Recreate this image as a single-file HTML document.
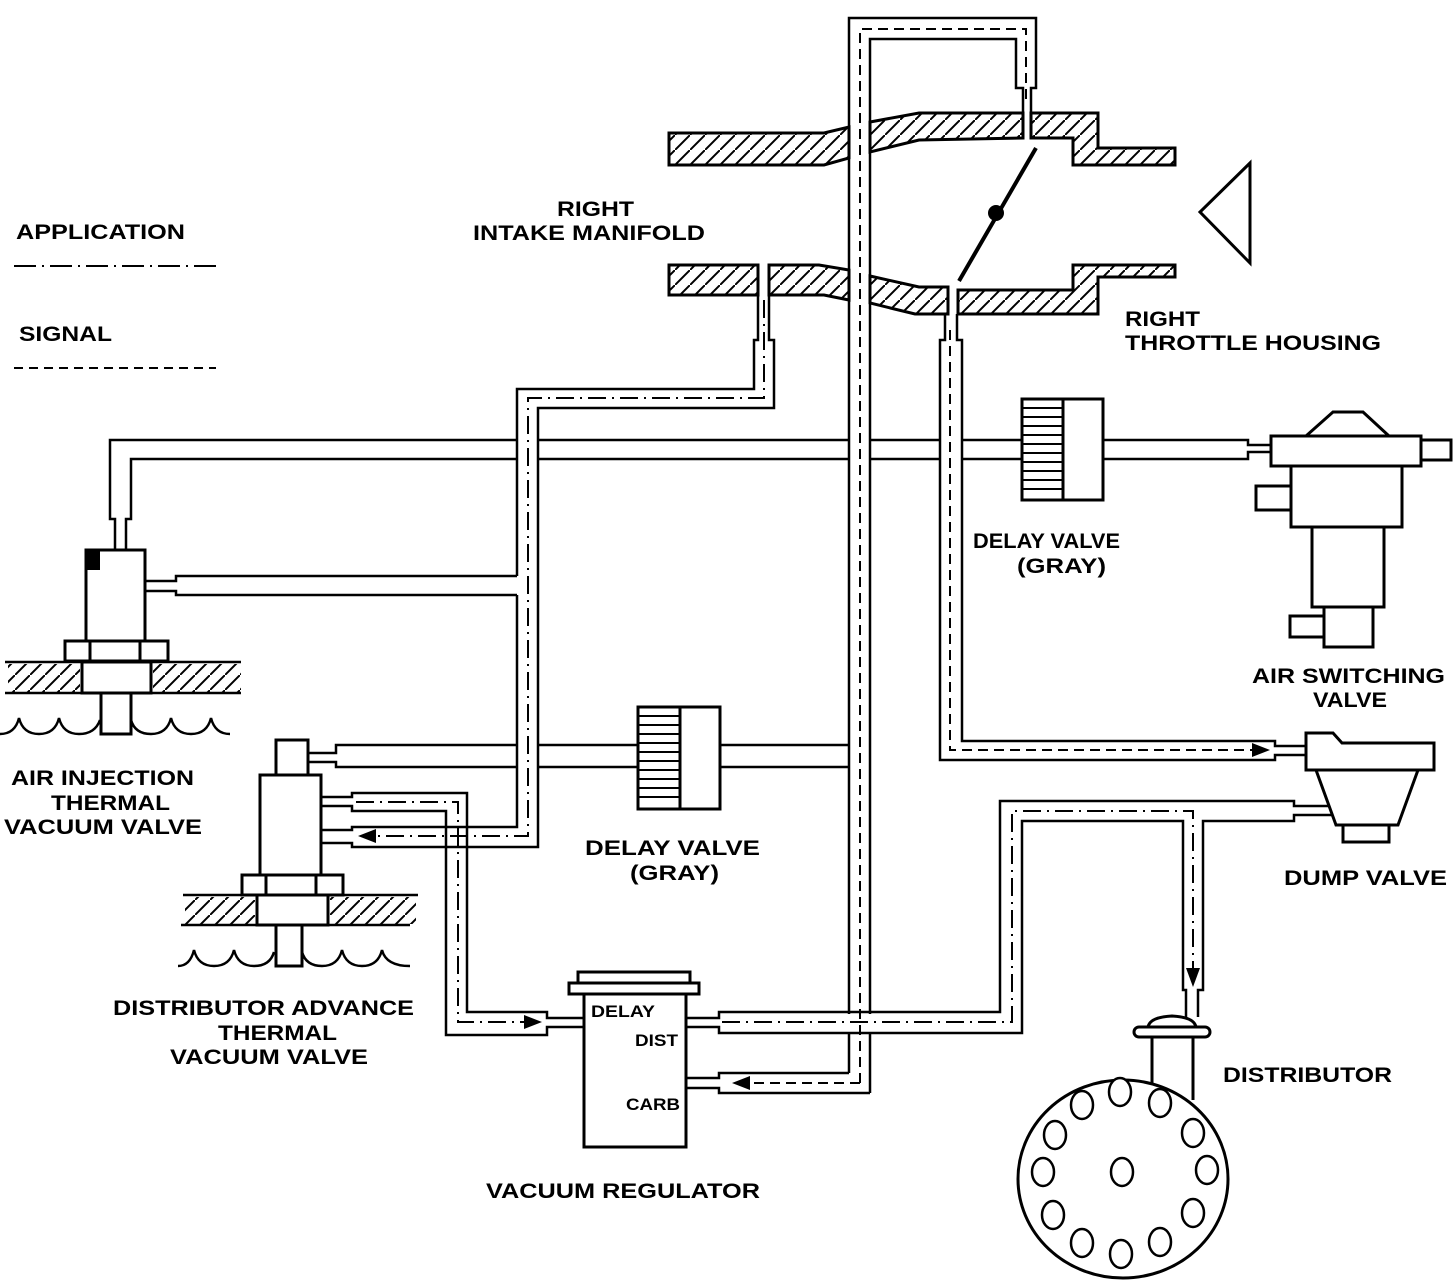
<!DOCTYPE html>
<html><head><meta charset="utf-8"><style>
html,body{margin:0;padding:0;background:#fff;}
svg{display:block;}
text{font-family:"Liberation Sans",sans-serif;font-weight:bold;fill:#000;}
</style></head><body>
<svg width="1454" height="1280" viewBox="0 0 1454 1280" xmlns="http://www.w3.org/2000/svg">
<defs>
<pattern id="h" patternUnits="userSpaceOnUse" width="15" height="15">
<line x1="-2" y1="17" x2="17" y2="-2" stroke="#000" stroke-width="2"/>
</pattern>
</defs>
<rect width="1454" height="1280" fill="#fff"/>

<!-- legend -->
<text x="16" y="239" font-size="21" textLength="169" lengthAdjust="spacingAndGlyphs">APPLICATION</text>
<line x1="14" y1="266" x2="216" y2="266" stroke="#000" stroke-width="2" stroke-dasharray="22 6 2 6"/>
<text x="19" y="341" font-size="21" textLength="93" lengthAdjust="spacingAndGlyphs">SIGNAL</text>
<line x1="14" y1="368" x2="216" y2="368" stroke="#000" stroke-width="2" stroke-dasharray="9 6"/>

<!-- manifold walls -->
<g fill="url(#h)" stroke="#000" stroke-width="3" stroke-linejoin="miter">
<polygon points="669,133 824,133 849,127 849,158 824,165 669,165"/>
<polygon points="870,122 919,113 1023,113 1023,138 919,140 870,152"/>
<polygon points="1031,113 1098,113 1098,148 1175,148 1175,165 1073,165 1073,138 1031,138"/>
<polygon points="669,265 758,265 758,295 669,295"/>
<polygon points="769,265 819,265 849,270 849,300 824,295 769,295"/>
<polygon points="870,276 919,287 948,287 948,314 915,314 870,303"/>
<polygon points="958,290 1073,290 1073,265 1175,265 1175,277 1098,277 1098,314 958,314"/>
</g>
<!-- throttle plate -->
<line x1="1036" y1="148" x2="959" y2="281" stroke="#000" stroke-width="4"/>
<circle cx="996" cy="213" r="8" fill="#000"/>
<polygon points="1250,163 1200,212 1250,263" fill="none" stroke="#000" stroke-width="3"/>

<text x="557" y="216" font-size="21" textLength="77" lengthAdjust="spacingAndGlyphs">RIGHT</text>
<text x="473" y="240" font-size="21" textLength="232" lengthAdjust="spacingAndGlyphs">INTAKE MANIFOLD</text>
<text x="1125" y="326" font-size="21" textLength="75" lengthAdjust="spacingAndGlyphs">RIGHT</text>
<text x="1125" y="350" font-size="21" textLength="256" lengthAdjust="spacingAndGlyphs">THROTTLE HOUSING</text>

<g fill="none" stroke="#000" stroke-width="2.5">
<path d="M849 1073 L849 18 L1036 18 L1036 88 L1031 88 L1031 113"/>
<path d="M870 1093 L870 39 L1016 39 L1016 88 L1023 88 L1023 113"/>
<path d="M849 1073 L719 1073 L719 1078 L686 1078"/>
<path d="M870 1093 L719 1093 L719 1088 L686 1088"/>
<path d="M945 314 L945 340 L940 340 L940 760 L1275 760 L1275 755 L1306 755"/>
<path d="M957 314 L957 340 L962 340 L962 741 L1275 741 L1275 746 L1306 746"/>
<path d="M758 295 L758 340 L754 340 L754 389 L517 389 L517 576"/>
<path d="M517 595 L517 827 L352 827 L352 830 L321 830"/>
<path d="M769 295 L769 340 L774 340 L774 408 L538 408 L538 847 L352 847 L352 843 L321 843"/>
<path d="M321 797 L352 797 L352 793 L467 793 L467 1012 L547 1012 L547 1018 L584 1018"/>
<path d="M321 806 L352 806 L352 811 L446 811 L446 1035 L547 1035 L547 1027 L584 1027"/>
<path d="M145 581 L176 581 L176 576 L517 576"/>
<path d="M145 591 L176 591 L176 595 L517 595"/>
<path d="M115 550 L115 519 L110 519 L110 440 L517 440"/>
<path d="M126 550 L126 519 L131 519 L131 459 L517 459"/>
<path d="M538 440 L849 440 M870 440 L940 440 M962 440 L1022 440"/>
<path d="M538 459 L849 459 M870 459 L940 459 M962 459 L1022 459"/>
<path d="M1103 440 L1248 440 L1248 445 L1271 445"/>
<path d="M1103 459 L1248 459 L1248 452 L1271 452"/>
<path d="M308 753 L336 753 L336 745 L517 745 M538 745 L638 745 M720 745 L849 745"/>
<path d="M308 762 L336 762 L336 767 L517 767 M538 767 L638 767 M720 767 L849 767"/>
</g>

<rect x="847" y="1014" width="25" height="18" fill="#fff"/>
<g fill="none" stroke="#000" stroke-width="2.5">
<path d="M686 1018 L719 1018 L719 1012 L1000 1012 L1000 801 L1294 801 L1294 806 L1329 806"/>
<path d="M686 1027 L719 1027 L719 1033 L1022 1033 L1022 821 L1183 821 L1183 990 L1186 990 L1186 1017"/>
<path d="M1198 1017 L1198 990 L1203 990 L1203 821 L1294 821 L1294 815 L1333 815"/>
</g>

<g fill="none" stroke="#000" stroke-width="2" stroke-dasharray="10 6">
<path d="M860 1083 L860 29 L1026 29 L1026 100"/>
<path d="M860 1083 L748 1083"/>
<path d="M950 330 L950 750 L1252 750"/>
</g>
<g fill="none" stroke="#000" stroke-width="2" stroke-dasharray="18 6 2 6">
<path d="M764 300 L764 398 L528 398 L528 836 L375 836"/>
<path d="M356 802 L458 802 L458 1022 L524 1022"/>
<path d="M722 1022 L1012 1022 L1012 811 L1193 811 L1193 968"/>
</g>
<g fill="#000">
<polygon points="732,1083 750,1076 750,1090"/>
<polygon points="1270,750 1252,743 1252,757"/>
<polygon points="358,836 376,829 376,843"/>
<polygon points="542,1022 524,1015 524,1029"/>
<polygon points="1193,987 1186,968 1200,968"/>
</g>

<g stroke="#000" fill="#fff" stroke-width="3">
<rect x="1022" y="399" width="81" height="101"/>
<line x1="1063" y1="399" x2="1063" y2="500"/>
<rect x="638" y="707" width="82" height="102"/>
<line x1="680" y1="707" x2="680" y2="809"/>
</g>
<g stroke="#000" stroke-width="2">
<path d="M1022 408H1063M1022 417H1063M1022 426H1063M1022 435H1063M1022 444H1063M1022 453H1063M1022 462H1063M1022 471H1063M1022 480H1063M1022 489H1063"/>
<path d="M638 716H680M638 725H680M638 734H680M638 743H680M638 752H680M638 761H680M638 770H680M638 779H680M638 788H680M638 797H680"/>
</g>
<text x="973" y="548" font-size="21" textLength="147" lengthAdjust="spacingAndGlyphs">DELAY VALVE</text>
<text x="1017" y="573" font-size="21" textLength="89" lengthAdjust="spacingAndGlyphs">(GRAY)</text>
<text x="585" y="855" font-size="21" textLength="175" lengthAdjust="spacingAndGlyphs">DELAY VALVE</text>
<text x="630" y="880" font-size="21" textLength="89" lengthAdjust="spacingAndGlyphs">(GRAY)</text>

<g stroke="#000" fill="#fff" stroke-width="3">
<polygon points="1306,436 1333,412 1363,412 1389,436"/>
<rect x="1271" y="436" width="150" height="30"/>
<rect x="1421" y="440" width="30" height="20"/>
<rect x="1291" y="466" width="111" height="61"/>
<rect x="1256" y="486" width="35" height="24"/>
<rect x="1312" y="527" width="72" height="80"/>
<rect x="1324" y="607" width="49" height="40"/>
<rect x="1290" y="616" width="34" height="21"/>
</g>
<text x="1252" y="683" font-size="21" textLength="193" lengthAdjust="spacingAndGlyphs">AIR SWITCHING</text>
<text x="1313" y="707" font-size="21" textLength="74" lengthAdjust="spacingAndGlyphs">VALVE</text>

<g stroke="#000" fill="#fff" stroke-width="3">
<polygon points="1316,770 1418,770 1398,825 1336,825"/>
<polygon points="1306,733 1333,733 1342,743 1434,743 1434,770 1306,770"/>
<rect x="1343" y="825" width="46" height="17"/>
</g>
<text x="1284" y="885" font-size="21" textLength="163" lengthAdjust="spacingAndGlyphs">DUMP VALVE</text>

<g stroke="#000" fill="#fff" stroke-width="3">
<rect x="86" y="550" width="59" height="91"/>
<rect x="65" y="641" width="103" height="20"/>
<rect x="82" y="662" width="69" height="31"/>
<rect x="101" y="693" width="30" height="41"/>
</g>
<rect x="86" y="550" width="14" height="20" fill="#000"/>
<g stroke="#000" stroke-width="3"><line x1="90" y1="641" x2="90" y2="661"/><line x1="140" y1="641" x2="140" y2="661"/></g>
<rect x="8" y="664" width="72" height="28" fill="url(#h)"/>
<rect x="153" y="664" width="88" height="28" fill="url(#h)"/>
<g stroke="#000" stroke-width="2.5"><line x1="5" y1="662" x2="241" y2="662"/><line x1="5" y1="693" x2="241" y2="693"/></g>
<path d="M0 734 Q15 734 19 718 Q23 734 39 734 Q55 734 59 718 Q63 734 79 734 Q95 734 100 720 M131 720 Q135 734 151 734 Q167 734 171 718 Q175 734 191 734 Q207 734 211 718 Q215 734 230 734" fill="none" stroke="#000" stroke-width="2.5"/>
<text x="11" y="785" font-size="21" textLength="183" lengthAdjust="spacingAndGlyphs">AIR INJECTION</text>
<text x="51" y="810" font-size="21" textLength="119" lengthAdjust="spacingAndGlyphs">THERMAL</text>
<text x="4" y="834" font-size="21" textLength="198" lengthAdjust="spacingAndGlyphs">VACUUM VALVE</text>

<g stroke="#000" fill="#fff" stroke-width="3">
<rect x="276" y="740" width="32" height="35"/>
<rect x="260" y="775" width="61" height="100"/>
<rect x="242" y="875" width="101" height="20"/>
<rect x="257" y="895" width="71" height="30"/>
<rect x="276" y="925" width="26" height="41"/>
</g>
<g stroke="#000" stroke-width="3"><line x1="266" y1="875" x2="266" y2="895"/><line x1="316" y1="875" x2="316" y2="895"/></g>
<rect x="185" y="897" width="70" height="27" fill="url(#h)"/>
<rect x="330" y="897" width="86" height="27" fill="url(#h)"/>
<g stroke="#000" stroke-width="2.5"><line x1="183" y1="895" x2="418" y2="895"/><line x1="181" y1="925" x2="410" y2="925"/></g>
<path d="M178 966 Q190 966 194 950 Q198 966 214 966 Q230 966 234 950 Q238 966 254 966 Q270 966 274 952 M302 952 Q306 966 322 966 Q338 966 342 950 Q346 966 362 966 Q378 966 382 950 Q386 966 410 966" fill="none" stroke="#000" stroke-width="2.5"/>
<text x="113" y="1015" font-size="21" textLength="301" lengthAdjust="spacingAndGlyphs">DISTRIBUTOR ADVANCE</text>
<text x="218" y="1040" font-size="21" textLength="119" lengthAdjust="spacingAndGlyphs">THERMAL</text>
<text x="170" y="1064" font-size="21" textLength="198" lengthAdjust="spacingAndGlyphs">VACUUM VALVE</text>

<g stroke="#000" fill="#fff" stroke-width="3">
<rect x="578" y="972" width="112" height="11"/>
<rect x="569" y="983" width="130" height="11"/>
<rect x="584" y="994" width="102" height="153"/>
</g>
<text x="591" y="1017" font-size="17" textLength="64" lengthAdjust="spacingAndGlyphs">DELAY</text>
<text x="635" y="1046" font-size="17" textLength="43" lengthAdjust="spacingAndGlyphs">DIST</text>
<text x="626" y="1110" font-size="17" textLength="54" lengthAdjust="spacingAndGlyphs">CARB</text>
<text x="486" y="1198" font-size="21" textLength="274" lengthAdjust="spacingAndGlyphs">VACUUM REGULATOR</text>

<g stroke="#000" stroke-width="3" fill="#fff">
<line x1="1152" y1="1037" x2="1152" y2="1090"/>
<line x1="1193" y1="1037" x2="1193" y2="1100"/>
<path d="M1148 1027 Q1150 1017 1172 1016 Q1194 1017 1196 1027 Z"/>
<rect x="1134" y="1027" width="76" height="10" rx="5"/>
<ellipse cx="1123" cy="1179" rx="105" ry="99"/>
</g>
<g stroke="#000" stroke-width="2.5" fill="#fff">
<ellipse cx="1082" cy="1105" rx="11" ry="14"/>
<ellipse cx="1120" cy="1092" rx="11" ry="14"/>
<ellipse cx="1160" cy="1103" rx="11" ry="14"/>
<ellipse cx="1055" cy="1135" rx="11" ry="14"/>
<ellipse cx="1193" cy="1133" rx="11" ry="14"/>
<ellipse cx="1043" cy="1172" rx="11" ry="14"/>
<ellipse cx="1122" cy="1172" rx="11" ry="14"/>
<ellipse cx="1207" cy="1170" rx="11" ry="14"/>
<ellipse cx="1053" cy="1215" rx="11" ry="14"/>
<ellipse cx="1193" cy="1213" rx="11" ry="14"/>
<ellipse cx="1082" cy="1243" rx="11" ry="14"/>
<ellipse cx="1121" cy="1254" rx="11" ry="14"/>
<ellipse cx="1160" cy="1242" rx="11" ry="14"/>
</g>
<text x="1223" y="1082" font-size="21" textLength="169" lengthAdjust="spacingAndGlyphs">DISTRIBUTOR</text>
</svg>
</body></html>
